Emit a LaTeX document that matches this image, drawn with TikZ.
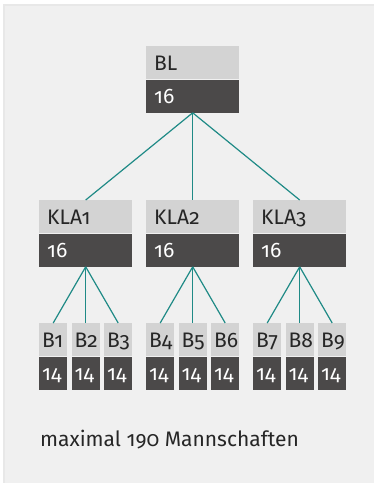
\documentclass[tikz,border=0pt]{standalone}
\usepackage{fontspec}
\setmainfont{Fira Sans}[Numbers=OldStyle]
\definecolor{panel}{HTML}{F0F0F0}
\definecolor{boxlight}{HTML}{D3D3D3}
\definecolor{boxdark}{HTML}{4B4949}
\definecolor{ink}{HTML}{262626}
\definecolor{teal}{HTML}{1F8A86}
\begin{document}
\begin{tikzpicture}[
            x=1pt, y=-1pt,
            every node/.style={inner ysep=0pt, text height=24pt, text depth=9pt, anchor=north west, font=\fontsize{21}{25}\selectfont},
            head/.style={fill=boxlight, text=ink, minimum width=93pt, minimum height=33pt, inner xsep=8pt, text width=77pt, align=left},
            count/.style={head, fill=boxdark, text=white},
            small/.style={head, minimum width=28pt, inner xsep=3pt, text width=22pt},
            smallcount/.style={small, fill=boxdark, text=white},
            link/.style={teal, line width=1.2pt}
        ]
            \useasboundingbox (0,0) rectangle (374,483);
            \fill [white] (0,0) rectangle (374,483);
            \fill [black!9] (3,4) rectangle (374,483);
            \fill [panel] (5,6) rectangle (374,483);

            \node [head] (bl) at (146,46) {BL};
            \node [count] (bl-n) at (bl.south west) {16};

            \foreach \i/\x in {1/39,2/146,3/253} {
                \node [head] (kla\i) at (\x,200) {KLA\i};
                \node [count] (kla\i-n) at (kla\i.south west) {16};
                \draw [link] (bl-n.south) -- (kla\i.north);
            }

            \foreach \i in {1,...,9} {
                \pgfmathtruncatemacro{\grp}{int((\i-1)/3)+1}
                \pgfmathsetmacro{\xpos}{39+107*(\grp-1)+32.5*mod(\i-1,3)}
                \node [small] (b\i) at (\xpos,323) {B\i};
                \node [smallcount] (b\i-n) at (b\i.south west) {14};
                \draw [link] (kla\grp-n.south) -- (b\i.north);
            }

            \node [text=ink, text height=15pt, text depth=5pt, inner xsep=0pt] (total) at (40,431) {maximal 190 Mannschaften};
        \end{tikzpicture}
\end{document}
